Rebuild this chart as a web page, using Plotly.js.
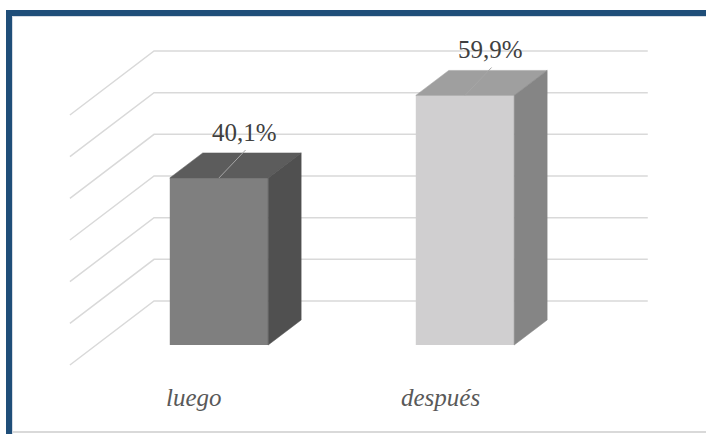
<!DOCTYPE html>
<html><head><meta charset="utf-8">
<script src="https://cdn.plot.ly/plotly-3.0.1.min.js"></script>
<style>html,body{margin:0;padding:0;background:#fff;overflow:hidden;}</style>
</head><body><div id="chart" style="width:706px;height:434px;"></div>
<script>
// ---- data ----
const categories = ['luego', 'después'];
const values = [40.1, 59.9];
const valueLabels = ['40,1%', '59,9%'];
const gridValues = [0, 10, 20, 30, 40, 50, 60];

// ---- styles ----
const frontColors = ['#7f7f7f', '#d0cfd0'];
const topColors = ['#5c5c5c', '#9f9f9f'];
const sideColors = ['#505050', '#858585'];
const gridColor = '#d9d9d9';
const SERIF = 'Liberation Serif';

// ---- 3D geometry (axis units) ----
const barW = 0.4;
const depthDX = 0.134, depthDY = 6.0;        // bar depth
const wallDY = 10.56;                         // back wall offset above bar front base
const wallLeft = -0.264, wallRight = 1.743;   // back wall x extent
const floorFrontX = -0.606, floorFrontDY = -4.8; // left wall front edge

const xIdx = categories.map((c, i) => i);

const traces = [];
traces.push({
  type: 'bar', x: xIdx, y: values, width: barW,
  marker: {color: frontColors, line: {width: 0}},
  hoverinfo: 'none', showlegend: false
});
xIdx.forEach((i, k) => {
  const v = values[k];
  const xl = i - barW / 2, xr = i + barW / 2;
  traces.push({
    type: 'scatter', mode: 'lines', fill: 'toself',
    x: [xl, xr, xr + depthDX, xl + depthDX, xl],
    y: [v, v, v + depthDY, v + depthDY, v],
    fillcolor: topColors[k], line: {width: 0.5, color: topColors[k]},
    hoverinfo: 'none', showlegend: false
  });
  traces.push({
    type: 'scatter', mode: 'lines', fill: 'toself',
    x: [xr, xr, xr + depthDX, xr + depthDX, xr],
    y: [0, v, v + depthDY, depthDY, 0],
    fillcolor: sideColors[k], line: {width: 0.5, color: sideColors[k]},
    hoverinfo: 'none', showlegend: false
  });
  // leader line
  traces.push({
    type: 'scatter', mode: 'lines',
    x: [i, i + 0.108], y: [v, v + 6.7],
    line: {width: 1, color: '#a6a6a6'},
    hoverinfo: 'none', showlegend: false
  });
});

const shapes = gridValues.map(g => ({
  type: 'path', xref: 'x', yref: 'y', layer: 'below',
  path: `M ${floorFrontX},${g + floorFrontDY} L ${wallLeft},${g + wallDY} L ${wallRight},${g + wallDY}`,
  line: {color: gridColor, width: 1.5}
}));

// frame
const H = 434, W = 706;
const py = p => 1 - p / H, px = p => p / W;
shapes.push({type: 'rect', xref: 'paper', yref: 'paper', x0: px(12), x1: 1, y0: py(433), y1: py(431), fillcolor: '#d9d9d9', line: {width: 0}});
shapes.push({type: 'rect', xref: 'paper', yref: 'paper', x0: px(12), x1: 1, y0: py(17), y1: py(16), fillcolor: '#d5dbe3', line: {width: 0}});
shapes.push({type: 'rect', xref: 'paper', yref: 'paper', x0: px(12), x1: px(13), y0: 0, y1: py(16), fillcolor: '#d5dbe3', line: {width: 0}});
shapes.push({type: 'rect', xref: 'paper', yref: 'paper', x0: px(6), x1: 1, y0: py(16), y1: py(10), fillcolor: '#1f4e79', line: {width: 0}});
shapes.push({type: 'rect', xref: 'paper', yref: 'paper', x0: px(6), x1: px(12), y0: 0, y1: py(10), fillcolor: '#1f4e79', line: {width: 0}});

const annotations = [];
xIdx.forEach((i, k) => {
  annotations.push({
    x: i + 0.104, y: values[k] + 11.0, xref: 'x', yref: 'y',
    text: valueLabels[k], showarrow: false,
    font: {family: SERIF, size: 25, color: '#404040'}
  });
  annotations.push({
    x: i - 0.1, y: -12.5, xref: 'x', yref: 'y',
    text: categories[k], showarrow: false,
    font: {family: SERIF, size: 25, color: '#595959', style: 'italic'}
  });
});

const layout = {
  width: 706, height: 434,
  margin: {l: 0, r: 0, t: 0, b: 0},
  paper_bgcolor: '#ffffff', plot_bgcolor: '#ffffff',
  showlegend: false,
  font: {family: SERIF},
  xaxis: {range: [-0.8902, 1.9797], visible: false, fixedrange: true},
  yaxis: {range: [-21.36, 82.8], visible: false, fixedrange: true},
  shapes: shapes, annotations: annotations,
  hovermode: false
};
Plotly.newPlot('chart', traces, layout, {displayModeBar: false, staticPlot: true});
</script>
</body></html>
